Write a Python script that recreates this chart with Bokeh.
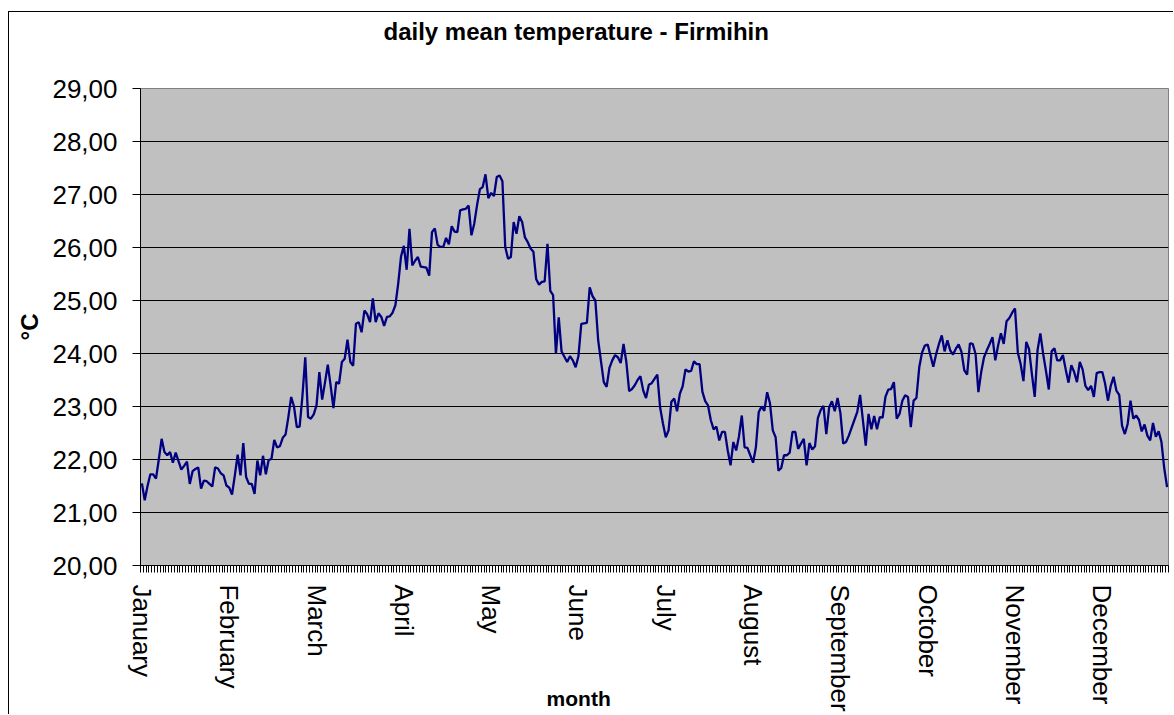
from bokeh.plotting import figure
from bokeh.models import FixedTicker, CustomJSTickFormatter, Range1d, Title
from bokeh.embed import file_html
from bokeh.resources import INLINE

# ---------------- data (daily mean temperature, °C) ----------------
jan = [21.55, 21.23, 21.50, 21.72, 21.72, 21.64, 22.00, 22.39, 22.14, 22.08,
       22.14, 21.94, 22.13, 21.97, 21.81, 21.88, 21.96, 21.54, 21.78, 21.82,
       21.85, 21.45, 21.60, 21.59, 21.54, 21.49, 21.85, 21.83, 21.74, 21.70,
       21.51]
feb = [21.47, 21.34, 21.70, 22.09, 21.70, 22.31, 21.67, 21.54, 21.54, 21.35,
       21.98, 21.70, 22.07, 21.72, 21.99, 22.01, 22.37, 22.23, 22.25, 22.41,
       22.47, 22.80, 23.18, 23.00, 22.61, 22.62, 23.20, 23.93]
mar = [22.80, 22.77, 22.85, 23.02, 23.65, 23.13, 23.45, 23.79, 23.40, 22.97,
       23.46, 23.43, 23.84, 23.90, 24.26, 23.84, 23.77, 24.56, 24.59, 24.40,
       24.81, 24.74, 24.59, 25.04, 24.59, 24.76, 24.69, 24.52, 24.69, 24.70,
       24.77]
apr = [24.91, 25.32, 25.83, 26.03, 25.58, 26.35, 25.66, 25.75, 25.82, 25.64,
       25.63, 25.62, 25.47, 26.29, 26.36, 26.05, 26.01, 26.01, 26.18, 26.06,
       26.40, 26.30, 26.29, 26.70, 26.72, 26.73, 26.79, 26.23, 26.45, 26.80]
may = [27.10, 27.14, 27.38, 26.93, 27.03, 26.97, 27.33, 27.36, 27.25, 26.01,
       25.79, 25.82, 26.48, 26.26, 26.59, 26.48, 26.19, 26.10, 25.98, 25.92,
       25.40, 25.30, 25.35, 25.36, 26.07, 25.18, 25.10, 23.99, 24.68, 24.04,
       23.94]
jun = [23.84, 23.95, 23.87, 23.74, 23.95, 24.56, 24.57, 24.58, 25.25, 25.08,
       25.00, 24.25, 23.85, 23.46, 23.37, 23.73, 23.87, 23.97, 23.93, 23.82,
       24.18, 23.84, 23.29, 23.33, 23.40, 23.50, 23.57, 23.30, 23.16, 23.41]
jul = [23.44, 23.52, 23.60, 22.98, 22.68, 22.42, 22.55, 23.09, 23.15, 22.91,
       23.24, 23.38, 23.70, 23.66, 23.67, 23.85, 23.80, 23.80, 23.28, 23.10,
       23.02, 22.74, 22.57, 22.62, 22.36, 22.52, 22.52, 22.17, 21.89, 22.33,
       22.17]
aug = [22.44, 22.83, 22.23, 22.22, 22.08, 21.94, 22.23, 22.89, 23.00, 22.92,
       23.27, 23.06, 22.55, 22.42, 21.79, 21.84, 22.08, 22.08, 22.13, 22.52,
       22.52, 22.20, 22.30, 22.39, 21.89, 22.31, 22.19, 22.25, 22.78, 22.93,
       23.01]
sep = [22.48, 22.98, 23.10, 22.91, 23.16, 22.88, 22.30, 22.33, 22.45, 22.60,
       22.75, 22.90, 23.22, 22.74, 22.26, 22.86, 22.57, 22.82, 22.57, 22.80,
       22.79, 23.18, 23.32, 23.33, 23.46, 22.77, 22.86, 23.11, 23.21, 23.18]
oct_ = [22.61, 23.11, 23.16, 23.74, 24.02, 24.15, 24.17, 23.96, 23.75, 23.99,
        24.18, 24.34, 24.04, 24.25, 24.06, 23.98, 24.09, 24.17, 24.03, 23.68,
        23.60, 24.19, 24.18, 23.99, 23.27, 23.65, 23.93, 24.06, 24.18, 24.31,
        23.87]
nov = [24.15, 24.38, 24.18, 24.61, 24.67, 24.77, 24.85, 24.02, 23.80, 23.48,
       24.22, 24.08, 23.61, 23.18, 24.06, 24.38, 23.99, 23.67, 23.32, 24.04,
       24.10, 23.87, 23.87, 23.97, 23.70, 23.45, 23.78, 23.65, 23.46, 23.84]
dec = [23.70, 23.39, 23.31, 23.39, 23.18, 23.63, 23.65, 23.65, 23.43, 23.11,
       23.39, 23.56, 23.30, 23.22, 22.64, 22.48, 22.67, 23.11, 22.77, 22.83,
       22.75, 22.53, 22.66, 22.45, 22.36, 22.69, 22.43, 22.53, 22.33, 21.83,
       21.48]

month_names = ["January", "February", "March", "April", "May", "June", "July",
               "August", "September", "October", "November", "December"]
label_interval = 31          # a category label every 31 days
y_ticks = [20, 21, 22, 23, 24, 25, 26, 27, 28, 29]
title_text = "daily mean temperature - Firmihin"

temps = jan + feb + mar + apr + may + jun + jul + aug + sep + oct_ + nov + dec
days = list(range(len(temps)))
n = len(temps)

# ---------------- layout (page pixels) ----------------
HOST_X, HOST_Y = 8, 11            # chart-area border position
CANVAS_X, CANVAS_Y = HOST_X + 1, HOST_Y + 1
FIG_W, FIG_H = 1174 - CANVAS_X, 715 - CANVAS_Y
FR_L, FR_T, FR_W, FR_H = 140, 88, 1028, 477
BL = FR_L - CANVAS_X
BT = FR_T - CANVAS_Y

FONT = "Liberation Sans"

p = figure(width=FIG_W, height=FIG_H,
           x_range=Range1d(-0.5, n - 0.5), y_range=Range1d(20, 29),
           output_backend="svg", toolbar_location=None,
           min_border_left=BL, min_border_right=FIG_W - BL - FR_W,
           min_border_top=BT, min_border_bottom=FIG_H - BT - FR_H,
           background_fill_color="#C0C0C0", border_fill_color="white",
           outline_line_color="#808080", outline_line_width=1)
p.styles = {"margin-left": f"{HOST_X}px", "margin-top": f"{HOST_Y}px",
            "border-left": "1px solid black", "border-top": "1px solid black"}

p.line(days, temps, line_color="#000080", line_width=2.3)

# title: a blank spacer next to the frame, the real title above it
try:
    p.title_location = None
except Exception:
    p.title.text = ""
spacer = Title(text="\u00a0", text_font=FONT, text_font_size="10px",
               text_color="white", standoff=28)
main_title = Title(text=title_text, text_font=FONT, text_font_size="24px",
                   text_font_style="bold", text_color="black",
                   align="left", offset=383 - FR_L, standoff=5,
                   vertical_align="bottom")
p.add_layout(spacer, "above")
p.add_layout(main_title, "above")

# y axis
p.yaxis.ticker = FixedTicker(ticks=y_ticks)
p.yaxis.formatter = CustomJSTickFormatter(
    code="return tick.toFixed(2).replace('.', ',');")
p.yaxis.major_label_text_font = FONT
p.yaxis.major_label_text_font_size = "26px"
p.yaxis.major_label_text_color = "black"
p.yaxis.major_tick_out = 8
p.yaxis.major_tick_in = 0
p.yaxis.minor_tick_line_color = None
p.yaxis.major_tick_line_color = "black"
p.yaxis.axis_line_color = "black"
p.yaxis.major_label_standoff = 15
p.yaxis.axis_label = "°C"
p.yaxis.axis_label_text_font = FONT
p.yaxis.axis_label_text_font_size = "24px"
p.yaxis.axis_label_text_font_style = "bold"
p.yaxis.axis_label_text_color = "black"
p.yaxis.axis_label_standoff = 6

# x axis (category-style: a tick between every day, labels every 31 days)
label_pos = list(range(0, n, label_interval))
p.xaxis.ticker = FixedTicker(ticks=label_pos,
                             minor_ticks=[i - 0.5 for i in range(n + 1)])
p.xaxis.major_label_overrides = {pos: month_names[k] for k, pos in enumerate(label_pos)}
p.xaxis.major_label_orientation = "vertical"
p.xaxis.major_label_text_font = FONT
p.xaxis.major_label_text_font_size = "26px"
p.xaxis.major_label_text_color = "black"
p.xaxis.major_tick_line_color = None
p.xaxis.major_tick_out = 7
p.xaxis.major_tick_in = 0
p.xaxis.minor_tick_out = 7
p.xaxis.minor_tick_in = 0
p.xaxis.minor_tick_line_color = "black"
p.xaxis.axis_line_color = "black"
p.xaxis.major_label_standoff = 12
# the axis title sits left of centre in the original: pad with no-break spaces
p.xaxis.axis_label = "month" + "\u00a0" * 26
p.xaxis.axis_label_text_font = FONT
p.xaxis.axis_label_text_font_size = "21px"
p.xaxis.axis_label_text_font_style = "bold"
p.xaxis.axis_label_text_color = "black"
p.xaxis.axis_label_standoff = -28

# grid
p.xgrid.grid_line_color = None
p.ygrid.ticker = FixedTicker(ticks=y_ticks)
p.ygrid.grid_line_color = "black"
p.ygrid.grid_line_width = 1

open("out.html", "w").write(file_html(p, INLINE))
